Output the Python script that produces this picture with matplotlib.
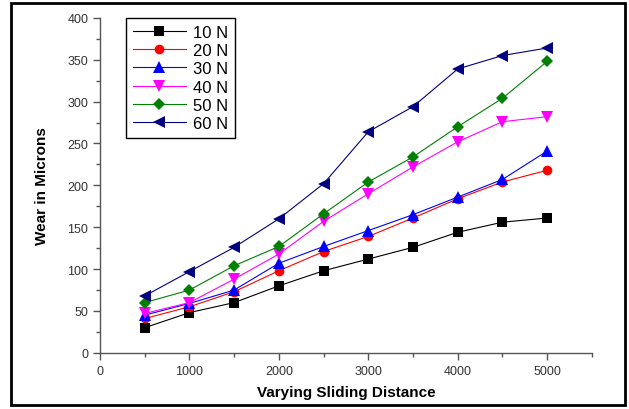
import numpy as np
import matplotlib
matplotlib.use('Agg')
import matplotlib.pyplot as plt
from matplotlib.patches import Rectangle
from matplotlib.ticker import MultipleLocator

plt.rcParams['font.family'] = ['Liberation Sans', 'DejaVu Sans']

distance = [500, 1000, 1500, 2000, 2500, 3000, 3500, 4000, 4500, 5000]
wear_10n = [30, 48, 60, 80, 98, 112, 126, 144, 156, 161]
wear_20n = [41, 55, 73, 98, 121, 139, 161, 184, 204, 218]
wear_30n = [45, 59, 75, 107, 127, 146, 165, 186, 207, 241]
wear_40n = [47, 60, 88, 118, 157, 190, 222, 252, 276, 282]
wear_50n = [60, 75, 104, 127, 166, 204, 234, 270, 304, 348]
wear_60n = [68, 97, 126, 160, 202, 264, 294, 339, 355, 364]

series = [
    ('10 N', wear_10n, 'black', 's', 6.5),
    ('20 N', wear_20n, 'red', 'o', 7),
    ('30 N', wear_30n, 'blue', '^', 8),
    ('40 N', wear_40n, 'magenta', 'v', 8),
    ('50 N', wear_50n, 'green', 'D', 6.5),
    ('60 N', wear_60n, 'navy', '<', 8),
]

fig = plt.figure(figsize=(6.29, 4.10), dpi=100)
ax = fig.add_axes([0.159, 0.137, 0.782, 0.817])

for name, vals, col, mk, ms in series:
    ax.plot(distance, vals, color=col, marker=mk, markersize=ms, lw=0.8, label=name,
            markeredgewidth=0)

ax.set_xlim(0, 5500)
ax.set_ylim(0, 400)
ax.xaxis.set_major_locator(MultipleLocator(1000))
ax.xaxis.set_minor_locator(MultipleLocator(500))
ax.yaxis.set_major_locator(MultipleLocator(50))
ax.yaxis.set_minor_locator(MultipleLocator(25))
ax.spines['top'].set_visible(False)
ax.spines['right'].set_visible(False)
for s in ['left', 'bottom']:
    ax.spines[s].set_color('#555555')
    ax.spines[s].set_linewidth(1.0)
ax.tick_params(which='major', direction='out', length=5, width=1, color='#555555',
               labelsize=9, labelcolor='#333333')
ax.tick_params(which='minor', direction='out', length=3, width=1, color='#555555')

ax.set_xlabel('Varying Sliding Distance', fontsize=11, fontweight='bold', labelpad=6)
ax.set_ylabel('Wear in Microns', fontsize=11, fontweight='bold', labelpad=13)

leg = ax.legend(loc='upper left', bbox_to_anchor=(0.053, 1.0), borderaxespad=0,
                fontsize=12, handlelength=3.2, handletextpad=0.4, labelspacing=0.2,
                borderpad=0.4, fancybox=False, framealpha=1)
leg.get_frame().set_edgecolor('black')
leg.get_frame().set_linewidth(1.0)

fig.patches.append(Rectangle((0.018, 0.01), 0.976, 0.98, transform=fig.transFigure,
                             fill=False, edgecolor='black', linewidth=2.0))

fig.savefig('out.png', dpi=100)
